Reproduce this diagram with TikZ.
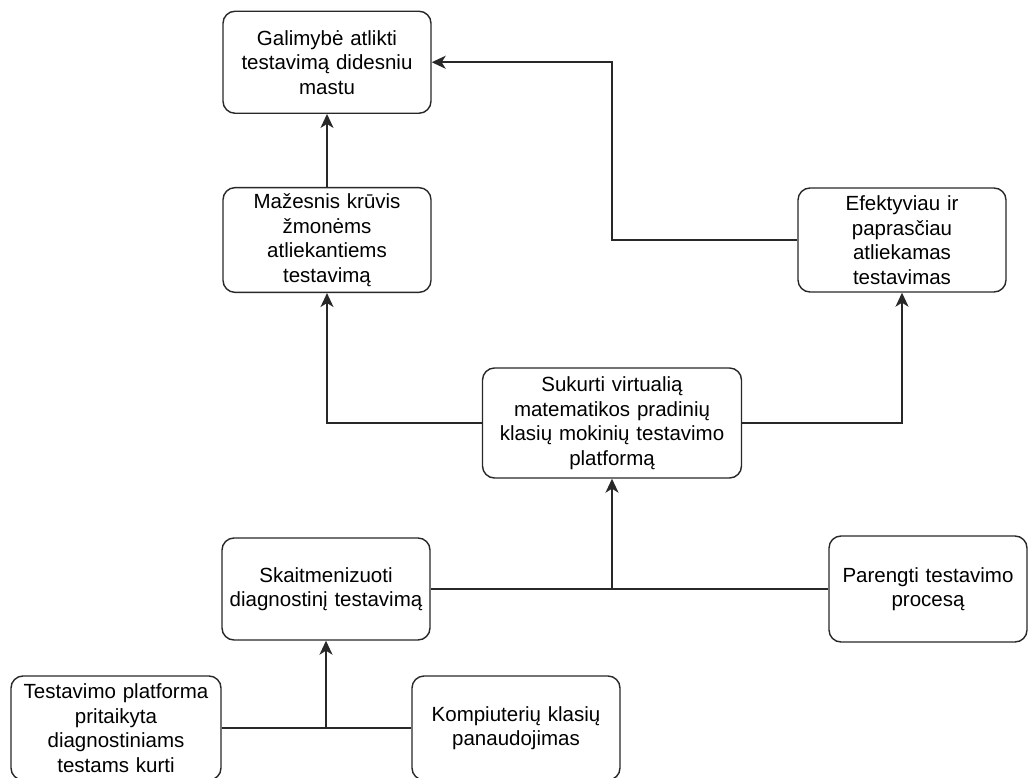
\documentclass[tikz,border=0pt]{standalone}
\usepackage{fontspec}
\setmainfont{Liberation Sans}
\usetikzlibrary{arrows.meta,positioning,calc}
\definecolor{edgegray}{RGB}{40,40,40}
\tikzset{
  blk/.style={rectangle,draw=edgegray,fill=white,line width=1.4pt,rounded corners=12pt,
    text width=#1,align=center,inner sep=6pt,minimum height=102pt,
    font=\fontsize{20.5}{24.5}\selectfont},
  blk/.default=196pt,
  arr/.style={-{Stealth[length=14pt,width=13pt,inset=4pt]},line width=1.6pt,color=edgegray},
  ln/.style={line width=1.6pt,color=edgegray}
}

\begin{document}
\begin{tikzpicture}[x=1pt,y=-1pt]
    \useasboundingbox (0,0) rectangle (1030,778);
    \node[blk=247pt,minimum height=110pt] (plat) at (612,423) {Sukurti virtualią\\ matematikos pradinių\\ klasių mokinių testavimo\\ platformą};
    \node[blk,minimum height=104pt] (kruvis) at (327,240) {Mažesnis krūvis\\ žmonėms\\ atliekantiems\\ testavimą};
    \node[blk,above=73pt of kruvis] (galim) {Galimybė atlikti\\ testavimą didesniu\\ mastu};
    \node[blk,minimum height=104pt] (efekt) at (902,240) {Efektyviau ir\\ paprasčiau\\ atliekamas\\ testavimas};
    \node[blk] (skait) at (326,589) {Skaitmenizuoti\\ diagnostinį testavimą};
    \node[blk=186pt,minimum height=106pt] (pareng) at (928,589) {Parengti testavimo\\ procesą};
    \node[blk=198pt,minimum height=104pt] (testplat) at (116,728) {Testavimo platforma\\ pritaikyta\\ diagnostiniams\\ testams kurti};
    \node[blk,minimum height=104pt] (komp) at (516,728) {Kompiuterių klasių\\ panaudojimas};

    \draw[arr] (kruvis) -- (galim);
    \draw[arr] (efekt.west) -- (efekt.west -| plat) |- (galim.east);
    \draw[arr] (plat.west) -| (kruvis.south);
    \draw[arr] (plat.east) -| (efekt.south);
    \draw[ln] (skait.east) -- (pareng.west);
    \draw[arr] (skait.east -| plat) -- (plat.south);
    \draw[ln] (testplat.east) -- (komp.west);
    \draw[arr] (testplat.east -| skait) -- (skait.south);
  \end{tikzpicture}
\end{document}
